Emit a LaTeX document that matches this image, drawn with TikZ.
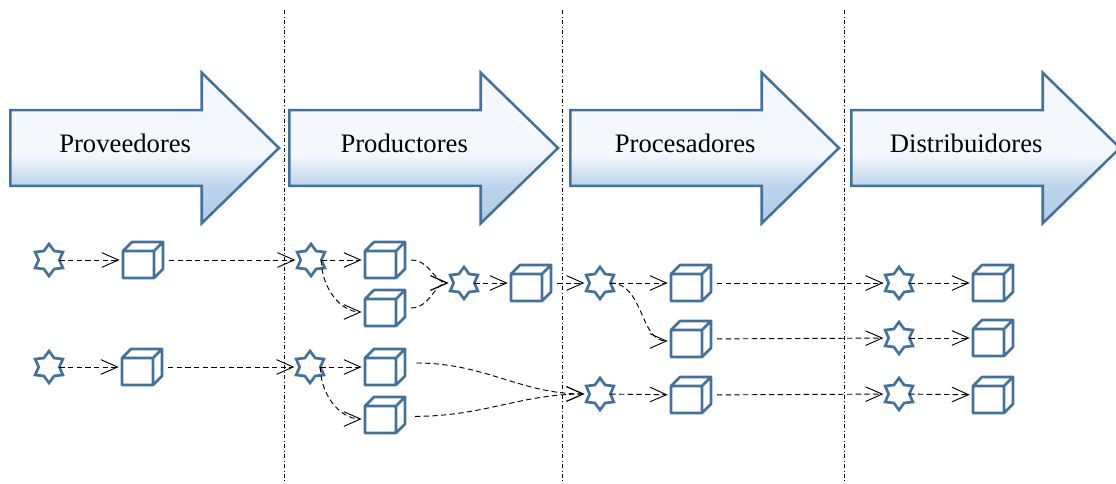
\documentclass[tikz,border=0pt]{standalone}
\usepackage{fontspec}
\setmainfont{Liberation Serif}
\usetikzlibrary{arrows.meta,shapes.arrows,shapes.geometric}

\definecolor{azul}{HTML}{41719C}
\definecolor{azulA}{HTML}{ADCCE8}
\definecolor{azulB}{HTML}{BBD5EC}
\definecolor{azulC}{HTML}{F4F8FD}
\pgfdeclareverticalshading{azulado}{100bp}{
  color(0bp)=(azulA); color(25bp)=(azulA); color(37.5bp)=(azulB);
  color(48bp)=(azulC); color(75bp)=(azulC); color(100bp)=(azulC)}

\tikzset{
  flecha/.style={single arrow,draw=azul,line width=1.9pt,shading=azulado,anchor=tip,
    minimum height=201.5pt,inner ysep=10.5pt,inner xsep=0pt,outer sep=0pt,
    single arrow head extend=28pt,single arrow head indent=0pt,single arrow tip angle=88.5,
    text height=20.75pt,text depth=13.25pt,font=\fontsize{20}{22}\selectfont},
  estrella/.style={star,star points=6,star point ratio=1.55,draw=azul,line width=2pt,
    minimum size=24pt,inner sep=0pt,outer sep=0pt},
  cajabox/.style={minimum width=33pt,minimum height=27pt,inner sep=0pt,outer sep=0pt,xshift=3pt},
  cajalinea/.style={draw=azul,line width=2pt,line join=round},
  flujo/.style={dash pattern=on 4pt off 2.5pt,line width=.7pt,shorten >=4pt,
    -{Straight Barb[length=12.5pt,width=11pt,line width=.7pt]}},
  limite/.style={dash dot,line width=.7pt}
}

\newcommand{\caja}[2]{
  \node[cajabox] (#1) at (#2) {};
  \draw[cajalinea,shift={(#2)}] (-20,-9) rectangle (11,18)
    (-20,-9) -- (-11,-18) -- (20,-18) -- (11,-9)
    (20,-18) -- (20,9) -- (11,18);
}

\begin{document}
\begin{tikzpicture}[x=.75pt,y=-.75pt]
  \useasboundingbox (0,0) rectangle (1116,484);

  \draw[limite] (284,10) -- (284,484);
  \draw[limite] (562,10) -- (562,484);
  \draw[limite] (844,10) -- (844,484);

  \node[flecha] (prov) at (279,148) {Proveedores};
  \node[flecha] (prod) at (558,148) {Productores};
  \node[flecha] (proc) at (839,148) {Procesadores};
  \node[flecha] (dist) at (1120,148) {Distribuidores};

  \node[estrella] (e1) at (49,260) {};
  \node[estrella] (e2) at (311,260) {};
  \node[estrella] (e3) at (464,283) {};
  \node[estrella] (e4) at (600,283) {};
  \node[estrella] (e5) at (49,367) {};
  \node[estrella] (e6) at (310,367) {};
  \node[estrella] (e7) at (600,394) {};
  \node[estrella] (e8) at (899,283) {};
  \node[estrella] (e9) at (899,338) {};
  \node[estrella] (e10) at (899,394) {};

  \caja{c1}{143,260}
  \caja{c2}{385,260}
  \caja{c3}{385,308}
  \caja{c4}{531,283}
  \caja{c5}{142,367}
  \caja{c6}{385,367}
  \caja{c7}{385,415}
  \caja{c8}{691,283}
  \caja{c9}{691,339}
  \caja{c10}{691,395}
  \caja{c11}{993,283}
  \caja{c12}{993,338}
  \caja{c13}{993,395}

  \path[flujo]
    (e1) edge (c1)
    (c1) edge (e2)
    (e2) edge (c2)
    (e2.east) edge[out=-90,in=180] ([yshift=-3pt]c3.west)
    (c2) edge[out=0,in=180] (e3)
    (c3) edge[out=0,in=180] (e3)
    (e3) edge (c4)
    (c4) edge (e4)
    (e4) edge (c8)
    (e4) edge[out=0,in=180] ([yshift=-1.5pt]c9.west)
    (c8) edge (e8)
    (c9) edge (e9)
    (e8) edge (c11)
    (e9) edge (c12)

    (e5) edge (c5)
    (c5) edge (e6)
    (e6) edge (c6)
    (e6.east) edge[out=-90,in=180] ([yshift=-3pt]c7.west)
    ([xshift=4pt,yshift=3pt]c6.east) edge[out=0,in=180] (e7)
    ([xshift=3pt,yshift=-1pt]c7.east) edge[out=0,in=180] (e7)
    (e7) edge (c10)
    (c10) edge (e10)
    (e10) edge (c13);
\end{tikzpicture}
\end{document}
